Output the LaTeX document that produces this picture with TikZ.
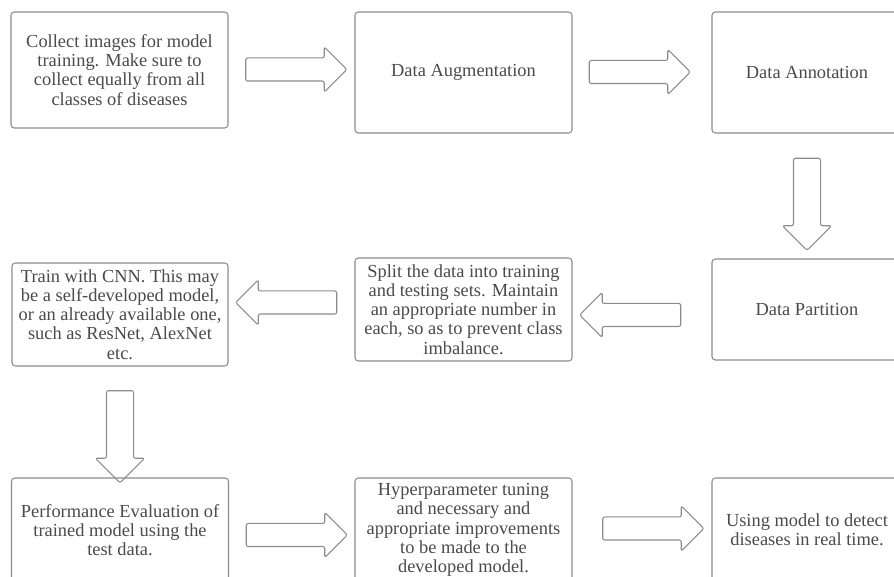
\documentclass[tikz,border=0pt]{standalone}
\usepackage{fontspec}
\setmainfont{Liberation Serif}
\usetikzlibrary{shapes.arrows}
\definecolor{linegray}{HTML}{8C8C8C}
\definecolor{textgray}{HTML}{4A4A4A}

\begin{document}
\begin{tikzpicture}[x=0.75pt, y=-0.75pt,
    box/.style={draw=linegray, line width=0.8pt, rounded corners=2.5pt, align=center,
        text=textgray, inner sep=0pt, font=\fontsize{13.8}{14.4}\selectfont},
    flow/.style={single arrow, draw=linegray, line width=0.8pt, rounded corners=1.5pt,
        inner xsep=0pt, inner ysep=8.25pt, single arrow head extend=8.25pt,
        minimum height=75.75pt},
    vflow/.style={flow, inner ysep=9.75pt, minimum height=69pt, rotate=-90}]
    \useasboundingbox (0,0) rectangle (894,577);
    \clip (0,0) rectangle (894,577);

    % top row
    \node[box, minimum width=162.75pt, minimum height=87pt] (collect) at (119.5,70)
        {Collect images for model\\training. Make sure to\\collect equally from all\\classes of diseases};
    \node[box, minimum width=162.75pt, minimum height=90.75pt] (augment) at (463.5,72.5) {Data Augmentation};
    \node[box, minimum width=142.5pt, minimum height=90.75pt] (annotate) at (807,72.5) {Data Annotation};

    % middle row
    \node[box, minimum width=142.5pt, minimum height=75.75pt] (partition) at (807,309.5) {Data Partition};
    \node[box, minimum width=162.75pt, minimum height=77.25pt] (split) at (463.5,309.5)
        {Split the data into training\\and testing sets. Maintain\\an appropriate number in\\each, so as to prevent class\\imbalance.};
    \node[box, minimum width=162pt, minimum height=77.25pt] (train) at (120,314.5)
        {Train with CNN. This may\\be a self-developed model,\\or an already available one,\\such as ResNet, AlexNet\\etc.};

    % bottom row
    \node[box, minimum width=162.75pt, minimum height=78pt] (evaluate) at (120,530)
        {Performance Evaluation of\\trained model using the\\test data.};
    \node[box, minimum width=162.75pt, minimum height=78pt] (tune) at (463.5,530)
        {Hyperparameter tuning\\and necessary and\\appropriate improvements\\to be made to the\\developed model.};
    \node[box, minimum width=142.5pt, minimum height=78pt] (deploy) at (807,530)
        {Using model to detect\\diseases in real time.};

    % block arrows
    \node[flow] (arr1) at (290.5,69.5) {};
    \node[flow] (arr2) at (634,72) {};
    \node[vflow] (arr3) at (807,197.5) {};
    \node[flow, rotate=180] (arr4) at (636,315) {};
    \node[flow, rotate=180] (arr5) at (292,302.5) {};
    \node[vflow] (arr6) at (120,430) {};
    \node[flow] (arr7) at (291,535) {};
    \node[flow] (arr8) at (647.5,528.5) {};
\end{tikzpicture}
\end{document}
